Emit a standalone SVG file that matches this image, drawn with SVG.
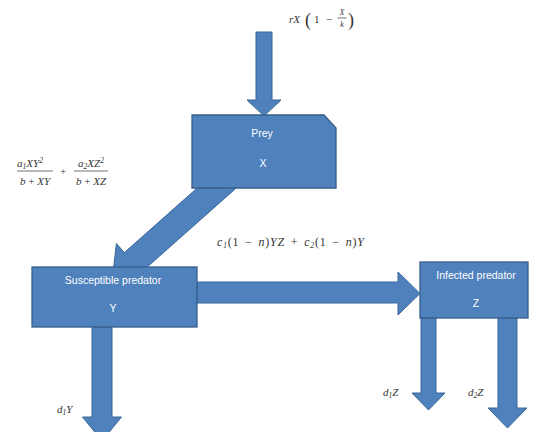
<svg xmlns="http://www.w3.org/2000/svg" width="535" height="432" viewBox="0 0 535 432">
<style>
.arr{fill:#4F81BD;stroke:#3A679A;stroke-width:1}
.box{fill:#4F81BD;stroke:#385D8A;stroke-width:1.3}
.lbl{font-family:"Liberation Sans",Arial,sans-serif;font-size:10.5px;fill:#FFFFFF;text-anchor:middle}
.m{font-family:"Liberation Serif","DejaVu Serif",serif;font-size:11px;font-style:italic;fill:#333333}
.mu{font-style:normal}
.sub{font-size:7.5px}
.big{font-size:18px}
.sm{font-size:8px}
.wide{font-size:12px;letter-spacing:0.8px;word-spacing:2px}
</style>
<rect width="535" height="432" fill="#FFFFFF"/>
<g id="connectors">
  <polygon class="arr" points="256,32 272,32 272,100 281,100 264,116 247,100 256,100"/>
  <polygon class="arr" points="219.4,168.3 124.4,252.6 116.4,243.6 112.1,280.9 149.6,281 141.6,272 236.6,187.7"/>
  <polygon class="arr" points="197,282 398,282 398,272 420,293.5 398,315 398,303 197,303"/>
  <polygon class="arr" points="92,327 112,327 112,417 121.5,417 102,441 82.5,417 92,417"/>
  <polygon class="arr" points="421,318 436,318 436,393 445,393 428.5,410 412,393 421,393"/>
  <polygon class="arr" points="498,318 517,318 517,408 527,408 507.5,428 488,408 498,408"/>
</g>
<g id="prey">
  <polygon class="box" points="192,115 324,115 336,128 336,188 192,188"/>
  <text class="lbl" x="262" y="137">Prey</text>
  <text class="lbl" x="263" y="167">X</text>
</g>
<g id="susceptible">
  <rect class="box" x="32" y="267" width="165" height="60"/>
  <text class="lbl" x="113" y="284">Susceptible predator</text>
  <text class="lbl" x="113" y="312">Y</text>
</g>
<g id="infected">
  <rect class="box" x="420" y="262" width="108" height="56"/>
  <text class="lbl" x="476" y="279">Infected predator</text>
  <text class="lbl" x="476" y="307">Z</text>
</g>
<g id="labels">
  <text class="m" x="289" y="23">rX</text>
  <text class="m mu big" x="305" y="26">(</text>
  <text class="m mu" x="314" y="23">1</text>
  <text class="m mu" x="326" y="23">−</text>
  <text class="m sm" x="342" y="15" text-anchor="middle">X</text>
  <line x1="337.5" y1="18" x2="346.5" y2="18" stroke="#333" stroke-width="0.7"/>
  <text class="m sm" x="342" y="27" text-anchor="middle">k</text>
  <text class="m mu big" x="348" y="26">)</text>

  <text class="m" x="30" y="167" text-anchor="middle">a<tspan class="sub" dy="2">1</tspan><tspan dy="-2">XY</tspan><tspan class="sub" dy="-4">2</tspan></text>
  <line x1="17" y1="171" x2="53" y2="171" stroke="#333" stroke-width="0.7"/>
  <text class="m" x="35" y="185" text-anchor="middle">b <tspan class="mu">+</tspan> XY</text>
  <text class="m mu" x="63" y="175" text-anchor="middle">+</text>
  <text class="m" x="91" y="167" text-anchor="middle">a<tspan class="sub" dy="2">2</tspan><tspan dy="-2">XZ</tspan><tspan class="sub" dy="-4">2</tspan></text>
  <line x1="74" y1="171" x2="108" y2="171" stroke="#333" stroke-width="0.7"/>
  <text class="m" x="91" y="185" text-anchor="middle">b <tspan class="mu">+</tspan> XZ</text>

  <text class="m wide" x="217" y="246">c<tspan class="sub" dy="2">1</tspan><tspan class="mu" dy="-2">(1 − </tspan>n<tspan class="mu">)</tspan>YZ <tspan class="mu">+</tspan> c<tspan class="sub" dy="2">2</tspan><tspan class="mu" dy="-2">(1 − </tspan>n<tspan class="mu">)</tspan>Y</text>

  <text class="m" x="57" y="413">d<tspan class="sub" dy="2">1</tspan><tspan dy="-2">Y</tspan></text>
  <text class="m" x="383" y="396">d<tspan class="sub" dy="2">1</tspan><tspan dy="-2">Z</tspan></text>
  <text class="m" x="468" y="396">d<tspan class="sub" dy="2">2</tspan><tspan dy="-2">Z</tspan></text>
</g>
</svg>
